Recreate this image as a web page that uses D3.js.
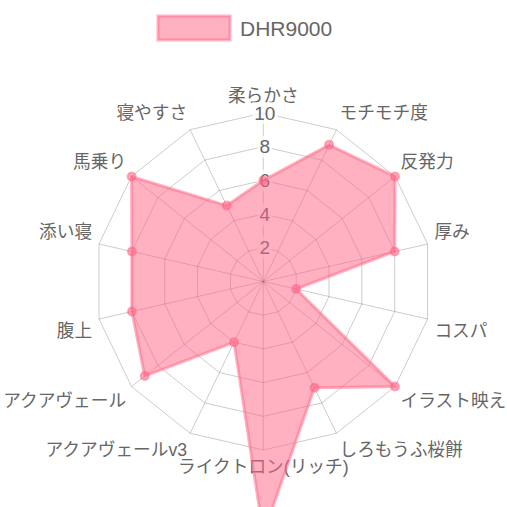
<!DOCTYPE html>
<html>
<head>
<meta charset="utf-8">
<script src="https://cdn.jsdelivr.net/npm/d3@7"></script>
<style>
  body { margin: 0; background: #fff; }
  text { font-family: "Liberation Sans", Arial, "Noto Sans CJK JP", sans-serif; }
</style>
</head>
<body>
<svg width="507" height="507"></svg>
<script>
const labels = ['柔らかさ', 'モチモチ度', '反発力', '厚み', 'コスパ', 'イラスト映え', 'しろもうふ桜餅',
  'ライクトロン(リッチ)', 'アクアヴェールv3', 'アクアヴェール', '腹上', '添い寝', '馬乗り', '寝やすさ'];
const values = [6, 9, 10, 8, 2, 10, 7, 15, 4, 9, 8, 8, 10, 5];
const tickValues = [2, 4, 6, 8, 10];
const seriesName = 'DHR9000';

const svg = d3.select('svg');
const cx = 263.3, cy = 281.5;
const R = 168.5;
const fill = 'rgba(255,99,132,0.5)';
const line = 'rgba(255,99,132,0.5)';

const rScale = d3.scaleLinear().domain([0, 10]).range([0, R]);
const angle = d3.scaleLinear().domain([0, labels.length]).range([0, 2 * Math.PI]);

const pt = (i, r) => [cx + r * Math.sin(angle(i)), cy - r * Math.cos(angle(i))];

const g = svg.append('g');

// grid rings
tickValues.forEach(t => {
  g.append('polygon')
    .attr('points', labels.map((d, i) => pt(i, rScale(t)).join(',')).join(' '))
    .attr('fill', 'none')
    .attr('stroke', 'rgba(0,0,0,0.2)')
    .attr('stroke-width', 1);
});

// angle lines
labels.forEach((d, i) => {
  const p = pt(i, rScale(10));
  g.append('line')
    .attr('x1', cx).attr('y1', cy)
    .attr('x2', p[0]).attr('y2', p[1])
    .attr('stroke', 'rgba(0,0,0,0.2)')
    .attr('stroke-width', 1);
});

// point labels
labels.forEach((d, i) => {
  const p = pt(i, R + 7);
  const deg = angle(i) * 180 / Math.PI;
  let anchor = 'middle';
  if (deg > 1 && deg < 179) anchor = 'start';
  else if (deg > 181 && deg < 359) anchor = 'end';
  let y = p[1];
  if (Math.abs(deg - 90) < 1 || Math.abs(deg - 270) < 1) y = p[1];
  else if (deg > 270 || deg < 90) y = p[1] - 10;
  else y = p[1] + 10;
  g.append('text')
    .attr('x', p[0]).attr('y', y)
    .attr('text-anchor', anchor)
    .attr('dominant-baseline', 'central')
    .attr('font-size', 17.7)
    .attr('fill', '#666')
    .text(d);
});

// tick labels with backdrop
tickValues.forEach(t => {
  const y = cy - rScale(t);
  const txt = g.append('text')
    .attr('x', cx + 1.5).attr('y', y)
    .attr('text-anchor', 'middle')
    .attr('dominant-baseline', 'central')
    .attr('font-size', 19)
    .attr('fill', '#666')
    .text(t);
  const bb = txt.node().getBBox();
  g.insert('rect', () => txt.node())
    .attr('x', bb.x - 2).attr('y', y - 11)
    .attr('width', bb.width + 4).attr('height', 22)
    .attr('fill', 'rgba(255,255,255,0.75)');
});

// data polygon
const radial = d3.lineRadial()
  .angle((d, i) => angle(i))
  .radius(d => rScale(d))
  .curve(d3.curveLinearClosed);

const dg = svg.append('g').attr('transform', `translate(${cx},${cy})`);
dg.append('path')
  .datum(values)
  .attr('d', radial)
  .attr('fill', fill)
  .attr('stroke', line)
  .attr('stroke-width', 3)
  .attr('stroke-linejoin', 'miter');

dg.selectAll('circle').data(values)
  .enter().append('circle')
  .attr('cx', (d, i) => rScale(d) * Math.sin(angle(i)))
  .attr('cy', (d, i) => -rScale(d) * Math.cos(angle(i)))
  .attr('r', 4)
  .attr('fill', fill)
  .attr('stroke', line)
  .attr('stroke-width', 2);

// legend
const lg = svg.append('g');
lg.append('rect')
  .attr('x', 158).attr('y', 16)
  .attr('width', 72).attr('height', 24)
  .attr('fill', fill)
  .attr('stroke', line)
  .attr('stroke-width', 3);
lg.append('text')
  .attr('x', 240).attr('y', 28)
  .attr('dominant-baseline', 'central')
  .attr('font-size', 21)
  .attr('fill', '#666')
  .text(seriesName);
</script>
</body>
</html>
